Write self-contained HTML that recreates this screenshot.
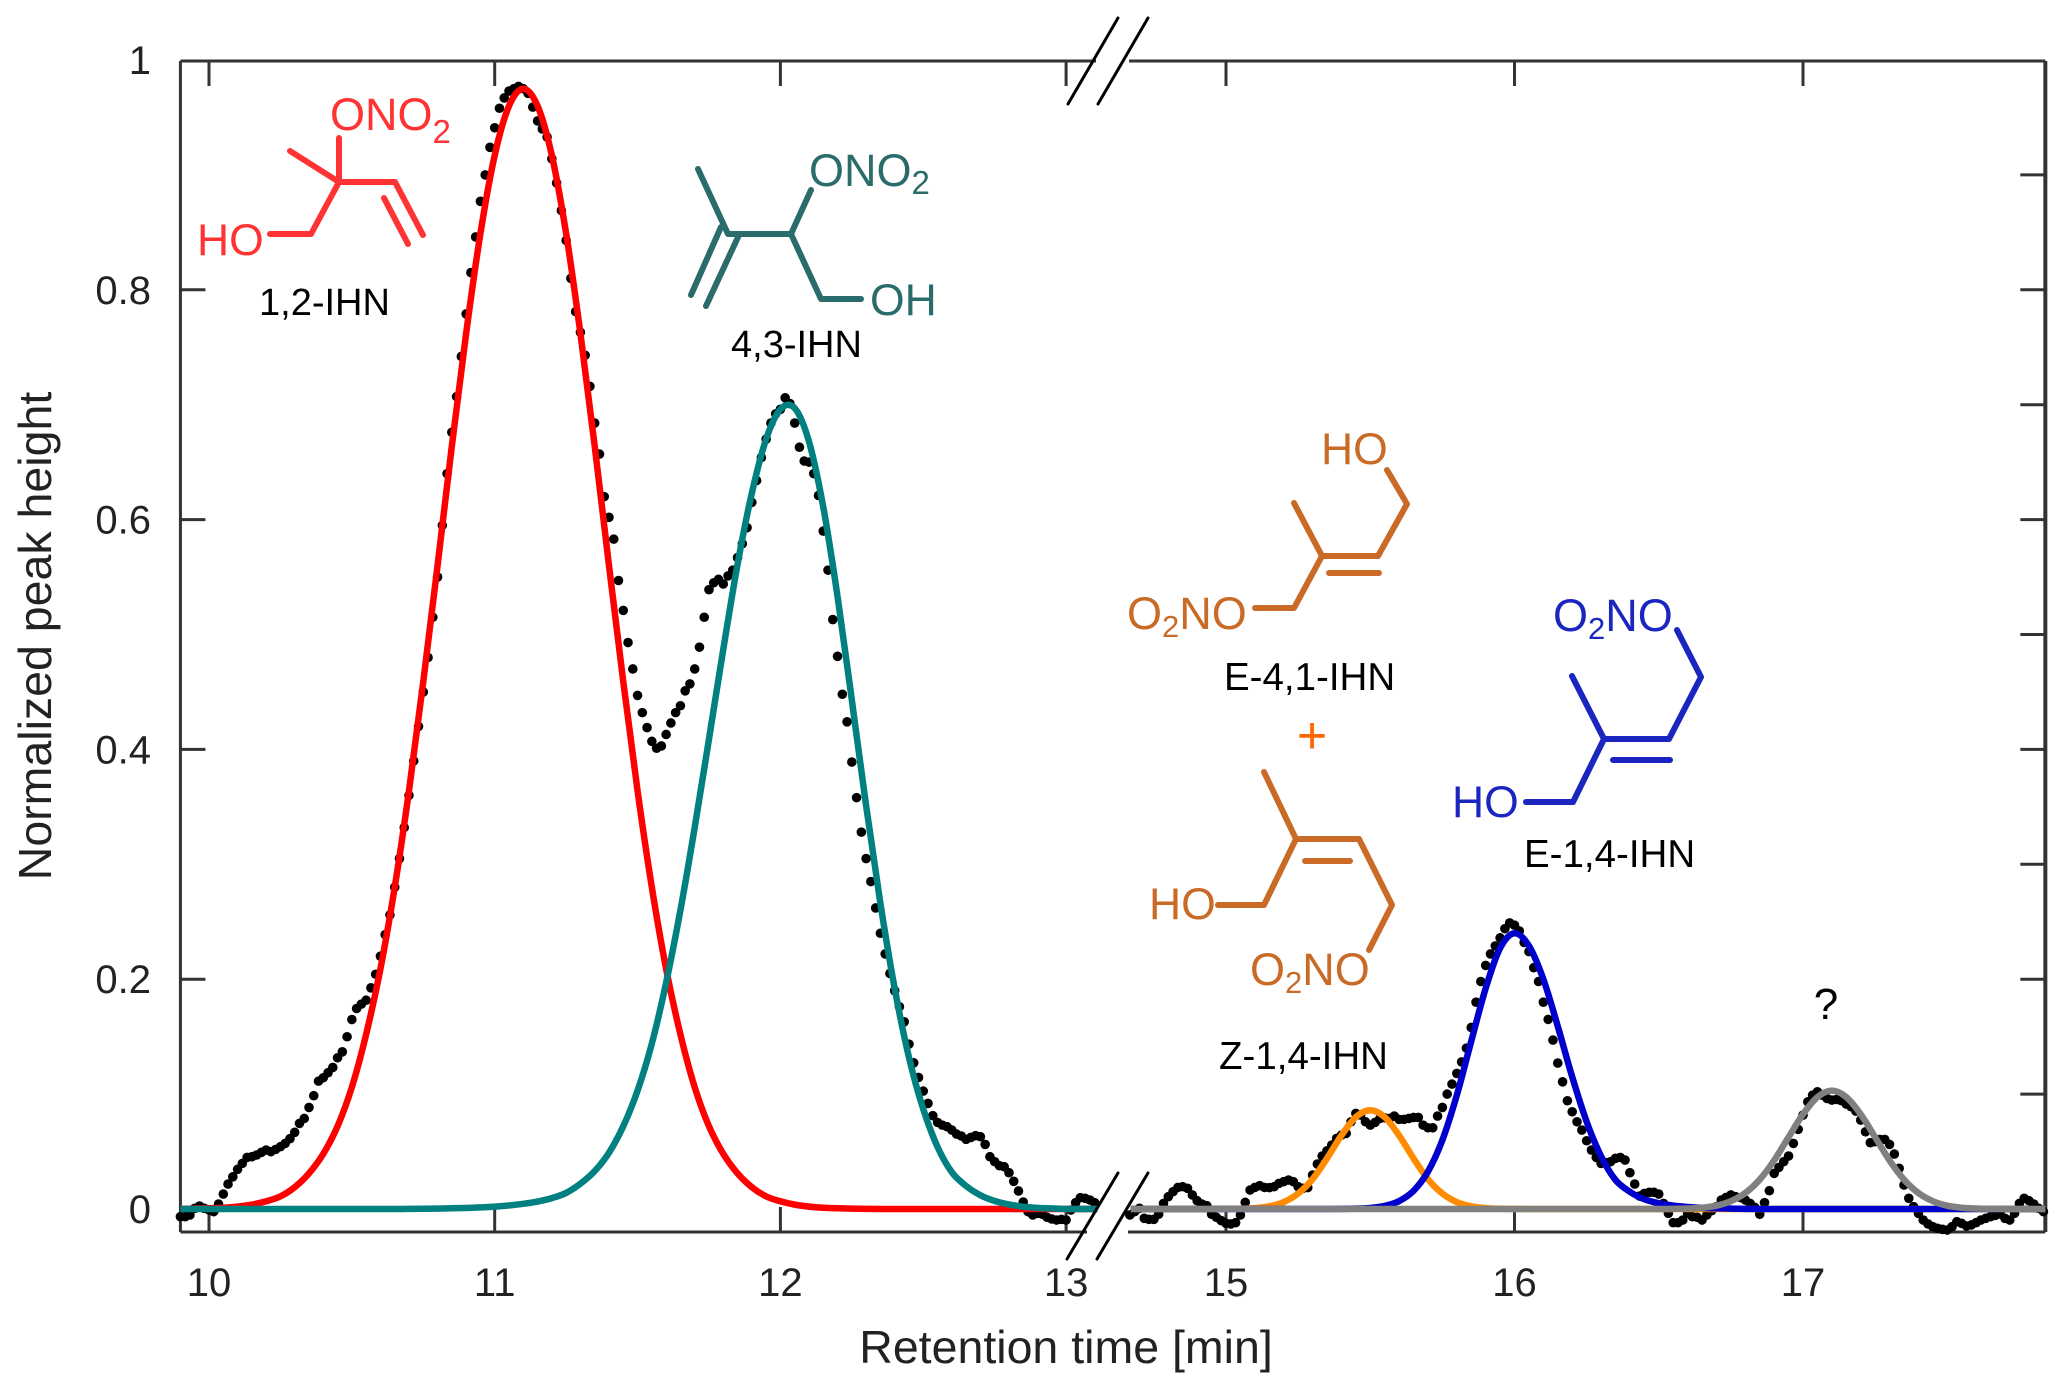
<!DOCTYPE html>
<html lang="en">
<head>
<meta charset="utf-8">
<title>Normalized peak height vs retention time</title>
<style>
html,body{margin:0;padding:0;background:#fff;width:2067px;height:1392px;overflow:hidden}
svg{display:block;font-family:"Liberation Sans",Arial,sans-serif}
</style>
</head>
<body>
<svg id="chart" xmlns="http://www.w3.org/2000/svg" width="2067" height="1392" viewBox="0 0 2067 1392">
  <g id="axes"></g>
  <g id="dots"></g>
  <g id="curves"></g>
  <g id="breaks" stroke="#000" stroke-width="3" stroke-linecap="round">
    <line x1="1068" y1="104" x2="1118" y2="18"/>
    <line x1="1098" y1="104" x2="1148" y2="18"/>
    <line x1="1067" y1="1259" x2="1118" y2="1173"/>
    <line x1="1097" y1="1259" x2="1148" y2="1173"/>
  </g>
  <text x="1066" y="1363" font-size="46.5" text-anchor="middle" fill="#222">Retention time [min]</text>
  <text transform="translate(51 636) rotate(-90)" font-size="46.5" text-anchor="middle" fill="#222">Normalized peak height</text>

  <g>
    <path fill="none" stroke="#ff3333" stroke-width="6" stroke-linecap="round" stroke-linejoin="round" d="M339 138L339 182M290 151L339 182L395 182L423 235M384 198L408 244M339 182L311 234L270 234"/>
    <text x="330" y="130" font-size="45" fill="#ff3333">ONO<tspan dy="13" font-size="33">2</tspan></text>
    <text x="197" y="255" font-size="44.5" fill="#ff3333">HO</text>
    <text x="259" y="315" font-size="38" fill="#000">1,2-IHN</text>
  </g>

  <g>
    <path fill="none" stroke="#2a6b6b" stroke-width="6" stroke-linecap="round" stroke-linejoin="round" d="M698 169L728 234L791 234L811 190M791 234L821 299L861 299M721 227L691 295M739 235L706 306"/>
    <text x="809" y="186" font-size="45" fill="#2a6b6b">ONO<tspan dy="8" font-size="33">2</tspan></text>
    <text x="870" y="315" font-size="44.5" fill="#2a6b6b">OH</text>
    <text x="731" y="357" font-size="38" fill="#000">4,3-IHN</text>
  </g>

  <g>
    <path fill="none" stroke="#c96a26" stroke-width="6" stroke-linecap="round" stroke-linejoin="round" d="M1387 470L1407 504L1378 556L1322 556L1294 503M1322 556L1294 608L1255 608M1329 573L1379 573"/>
    <text x="1321" y="464" font-size="44.5" fill="#c96a26">HO</text>
    <text x="1127" y="629" font-size="45" fill="#c96a26">O<tspan dy="8" font-size="31">2</tspan><tspan dy="-8">NO</tspan></text>
    <text x="1224" y="690" font-size="38.5" fill="#000">E-4,1-IHN</text>
  </g>

  <text x="1312" y="753" font-size="52" text-anchor="middle" fill="#ff6600">+</text>

  <g>
    <path fill="none" stroke="#c96a26" stroke-width="6" stroke-linecap="round" stroke-linejoin="round" d="M1264 772L1296 839L1359 839L1392 905L1369 950M1296 839L1264 905L1218 905M1305 861L1350 861"/>
    <text x="1149" y="919" font-size="44.5" fill="#c96a26">HO</text>
    <text x="1250" y="985" font-size="45" fill="#c96a26">O<tspan dy="8" font-size="31">2</tspan><tspan dy="-8">NO</tspan></text>
    <text x="1219" y="1069" font-size="38.5" fill="#000">Z-1,4-IHN</text>
  </g>

  <g>
    <path fill="none" stroke="#1a26bf" stroke-width="6" stroke-linecap="round" stroke-linejoin="round" d="M1677 630L1701 677L1669 739L1604 739L1572 676M1604 739L1573 802L1526 802M1613 760L1670 760"/>
    <text x="1553" y="631" font-size="45" fill="#1a26bf">O<tspan dy="8" font-size="31">2</tspan><tspan dy="-8">NO</tspan></text>
    <text x="1452" y="817" font-size="44.5" fill="#1a26bf">HO</text>
    <text x="1524" y="867" font-size="38.5" fill="#000">E-1,4-IHN</text>
  </g>

  <text x="1826" y="1019" font-size="44" text-anchor="middle" fill="#000">?</text>
</svg>

<script>
// ---- data ----
const xTickValues = [10, 11, 12, 13, 15, 16, 17];
const yTickValues = [0, 0.2, 0.4, 0.6, 0.8, 1];
const yTickLabels = ['0', '0.2', '0.4', '0.6', '0.8', '1'];
const rightTickValues = [0.1, 0.2, 0.3, 0.4, 0.5, 0.6, 0.7, 0.8, 0.9];
const leftTickValues = [0.2, 0.4, 0.6, 0.8];

const signalStepMin = 1 / 60;
const signalLeftStart = 9.9;
const signalRightStart = 14 + 40 / 60;

const signalLeft = [
-.0067,-.0067,-.0052,.0006,.0026,.0006,-.0009,-.0023,.0043,.013,.0217,.028,.0345,.0397,.0449,.0455,.047,.0493,.0513,.0499,
.0519,.0542,.0571,.0612,.0667,.0745,.0788,.0884,.0986,.1113,.1142,.1186,.1232,.1316,.1368,.1499,.1649,.1745,.1783,.1817,
.1925,.2043,.22,.2388,.256,.28,.305,.332,.36,.39,.42,.45,.48,.515,.55,.595,
.64,.676,.707,.742,.779,.815,.846,.877,.9,.924,.941,.958,.967,.973,.975,.977,.975,.971,.959,.947,.94,.933,.914,.893,.869,.843,.81,.781,.763,.743,.716,.684,.657,.62,
.602,.583,.547,.521,.493,.47,.447,.432,.419,.407,.401,.403,.413,.423,.432,.438,.451,.457,.47,.489,.515,.539,.545,.548,.544,.551,.556,.567,.579,.593,.615,
.634,.654,.67,.684,.692,.696,.706,.701,.684,.663,.651,.65,.64,.621,
.59,.556,.513,.481,.448,.424,.389,.358,.328,
.305,.285,.262,.24,.222,.205,.19,.176,
.1629,.1435,.1272,.1145,.1026,.0919,.0812,.0754,.073,.0716,.0687,.0652,.0635,.0606,.0623,.0638,.0629,.0562,.0455,.0412,.0377,.0368,.0316,.0241,.0157,.0061,-.0023,-.0052,-.0038,-.0046,-.0072,-.0087,-.0096,-.009,-.0096,-.0009,.0055,.0099,.0093,.0078,.0055
];

const signalRight = [
-.0052,-.0023,.0006,-.0081,-.009,-.009,-.0046,.0049,.0107,.0151,.0188,.0194,.018,.0122,.0072,.0043,.0029,-.0046,-.0072,-.0101,
-.0125,-.013,-.0119,-.0052,.0058,.0165,.0188,.0203,.0188,.0186,.0194,.0223,.0238,.0252,.0238,.0194,.018,.0186,.0296,.0391,
.0461,.0507,.0557,.0614,.0643,.0658,.0759,.0832,.0817,.0759,.073,.0754,.0788,.0794,.0788,.0809,.078,.078,.0788,.0797,
.0797,.073,.0707,.0707,.0809,.0884,.1,.1087,.118,.128,.14,.158,.18,.198,.212,.222,.229,.236,.244,.249,
.247,.242,.232,.224,.21,.198,.18,.165,.147,.127,.1107,
.0942,.0846,.0759,.0687,.0594,.0513,.0449,.0397,.0403,.0412,.0441,.0449,.0426,.0316,.0217,.0113,.0136,.0145,.0145,.013,
.0049,-.0038,-.0119,-.0119,-.0096,-.0038,-.0067,-.0072,-.0096,-.0052,-.0015,.002,.0078,.0101,.0122,.0107,.0099,.0078,.0049,.0014,
-.0046,.0055,.0159,.031,.0362,.0412,.0461,.0571,.0693,.0817,.0933,.0991,.102,.099,.0962,.0948,.0954,.0942,.0913,.089,
.0852,.0774,.0672,.0577,.0586,.0606,.0606,.0562,.0478,.0354,.0209,.0093,.002,-.0038,-.0096,-.013,-.0154,-.0168,-.0177,-.0183,
-.0154,-.011,-.0125,-.0148,-.0139,-.0119,-.0096,-.0081,-.0067,-.0055,-.0043,-.0081,-.0096,-.0038,.0049,.0093,.0072,.0043,.0006,-.0023
];

const fitTimesLeft = [9.9,9.95,10,10.05,10.1,10.15,10.2,10.25,10.3,10.35,10.4,10.45,10.5,10.55,10.6,10.65,10.7,10.75,10.8,10.85,10.9,10.95,11,11.05,11.1,11.15,11.2,11.25,11.3,11.35,11.4,11.45,11.5,11.55,11.6,11.65,11.7,11.75,11.8,11.85,11.9,11.95,12,12.05,12.1,12.15,12.2,12.25,12.3,12.35,12.4,12.45,12.5,12.55,12.6,12.65,12.7,12.75,12.8,12.85,12.9,12.95,13,13.05,13.11];

const fitRed = [.0001,.0003,.0006,.0011,.0021,.0038,.0067,.011,.019,.031,.048,.072,.106,.152,.209,.28,.364,.459,.56,.664,.762,.849,.917,.96,.975,.96,.917,.849,.762,.664,.56,.459,.364,.28,.209,.152,.106,.072,.048,.031,.019,.011,.0067,.0038,.0021,.0011,.0006,.0003,.0001,0,0,0,0,0,0,0,0,0,0,0,0,0,0,0,0];

const fitTeal = [0,0,0,0,0,0,0,0,0,0,0,0,0,0,0,0,.0001,.0002,.0003,.0006,.0009,.0014,.0021,.0031,.0045,.0065,.0095,.014,.022,.033,.049,.072,.103,.144,.197,.26,.332,.409,.487,.561,.623,.67,.696,.697,.668,.611,.533,.443,.351,.266,.192,.132,.087,.054,.032,.02,.012,.007,.004,.002,.001,.0005,0,0,0];

const fitTimesRight = [14.67,14.7,14.75,14.8,14.85,14.9,14.95,15,15.05,15.1,15.15,15.2,15.25,15.3,15.35,15.4,15.45,15.5,15.55,15.6,15.65,15.7,15.75,15.8,15.85,15.9,15.95,16,16.05,16.1,16.15,16.2,16.25,16.3,16.35,16.4,16.45,16.5,16.55,16.6,16.65,16.7,16.75,16.8,16.85,16.9,16.95,17,17.05,17.1,17.15,17.2,17.25,17.3,17.35,17.4,17.45,17.5,17.55,17.6,17.65,17.7,17.75,17.8,17.84];

const fitOrange = [0,0,0,0,0,0,0,.0001,.0002,.0008,.0023,.006,.0135,.026,.044,.064,.08,.086,.08,.064,.044,.026,.0135,.006,.0023,.0008,.0002,.0001,0,0,0,0,0,0,0,0,0,0,0,0,0,0,0,0,0,0,0,0,0,0,0,0,0,0,0,0,0,0,0,0,0,0,0,0,0];

const fitBlue = [0,0,0,0,0,0,0,0,0,0,0,0,0,0,0,.0001,.0003,.0009,.0027,.0069,.0158,.0325,.06,.099,.146,.192,.227,.24,.229,.2,.159,.115,.076,.046,.0253,.015,.0085,.005,.003,.0018,.001,.0006,.0003,.0001,0,0,0,0,0,0,0,0,0,0,0,0,0,0,0,0,0,0,0,0,0];

const fitGrey = [0,0,0,0,0,0,0,0,0,0,0,0,0,0,0,0,0,0,0,0,0,0,0,0,0,0,0,0,0,0,0,0,0,0,0,0,0,0,.0001,.0004,.0011,.0029,.0068,.0139,.0256,.0423,.0625,.0825,.0974,.103,.0974,.0825,.0625,.0423,.0256,.0139,.0068,.0029,.0011,.0004,.0001,0,0,0,0];

// ---- axis functions ----
function xScale(t) {
  return t < 14 ? 209 + 285.7 * (t - 10) : 1226 + 288.5 * (t - 15);
}
function yScale(v) {
  return 1209 - 1149 * v;
}

const NS = 'http://www.w3.org/2000/svg';
function mk(tag, parent, attrs) {
  const el = document.createElementNS(NS, tag);
  for (const k in attrs) el.setAttribute(k, attrs[k]);
  parent.appendChild(el);
  return el;
}

function smoothPath(xs, ys) {
  const p = xs.map((t, i) => [xScale(t), yScale(ys[i])]);
  let d = 'M' + p[0][0].toFixed(2) + ' ' + p[0][1].toFixed(2);
  for (let i = 0; i < p.length - 1; i++) {
    const a = p[Math.max(i - 1, 0)], b = p[i], c = p[i + 1], e = p[Math.min(i + 2, p.length - 1)];
    const c1x = b[0] + (c[0] - a[0]) / 6, c1y = b[1] + (c[1] - a[1]) / 6;
    const c2x = c[0] - (e[0] - b[0]) / 6, c2y = c[1] - (e[1] - b[1]) / 6;
    d += 'C' + c1x.toFixed(2) + ' ' + c1y.toFixed(2) + ' ' + c2x.toFixed(2) + ' ' + c2y.toFixed(2) + ' ' + c[0].toFixed(2) + ' ' + c[1].toFixed(2);
  }
  return d;
}

// ---- axes ----
const axes = document.getElementById('axes');
const frame = { left: xScale(9.9), right: xScale(17.84), top: yScale(1) + 1, bottom: 1232 };
const axisStyle = { stroke: '#333', 'stroke-width': 3, fill: 'none' };

const axisLeft = mk('line', axes, Object.assign({ x1: frame.left, y1: frame.top, x2: frame.left, y2: frame.bottom }, axisStyle));


const axisRight = mk('line', axes, Object.assign({ x1: frame.right, y1: frame.top, x2: frame.right, y2: frame.bottom }, axisStyle));


axisRight.setAttribute('stroke-width', '4');
const axisTopA = mk('line', axes, Object.assign({ x1: frame.left, y1: frame.top, x2: 1096, y2: frame.top }, axisStyle));


const axisTopB = mk('line', axes, Object.assign({ x1: 1129, y1: frame.top, x2: frame.right, y2: frame.top }, axisStyle));


const axisBottomA = mk('line', axes, Object.assign({ x1: frame.left, y1: frame.bottom, x2: 1087, y2: frame.bottom }, axisStyle));


const axisBottomB = mk('line', axes, Object.assign({ x1: 1128, y1: frame.bottom, x2: frame.right, y2: frame.bottom }, axisStyle));



const tickLen = 25;
xTickValues.forEach(function (t) {
  const x = xScale(t);
  const tb = mk('line', axes, { x1: x, y1: frame.bottom, x2: x, y2: frame.bottom - tickLen, stroke: '#333', 'stroke-width': 3 });
  
  
  const tt = mk('line', axes, { x1: x, y1: frame.top, x2: x, y2: frame.top + tickLen, stroke: '#333', 'stroke-width': 3 });
  
  
  const lb = mk('text', axes, { x: x, y: 1296, 'font-size': 40, 'text-anchor': 'middle', fill: '#222' });
  
  
  lb.textContent = String(t);
});
leftTickValues.forEach(function (v) {
  const y = yScale(v);
  const tk = mk('line', axes, { x1: frame.left, y1: y, x2: frame.left + tickLen, y2: y, stroke: '#333', 'stroke-width': 3 });
  
  
});
rightTickValues.forEach(function (v) {
  const y = yScale(v);
  const tk = mk('line', axes, { x1: frame.right - tickLen, y1: y, x2: frame.right, y2: y, stroke: '#333', 'stroke-width': 3 });
  
  
});
yTickValues.forEach(function (v, i) {
  const lb = mk('text', axes, { x: 151, y: yScale(v) + 14, 'font-size': 40, 'text-anchor': 'end', fill: '#222' });
  
  
  lb.textContent = yTickLabels[i];
});

// ---- measured dots ----
const dotsGroup = document.getElementById('dots');
function drawDots(values, start, label) {
  values.forEach(function (v, i) {
    const t = start + i * signalStepMin;
    const c = mk('circle', dotsGroup, { cx: xScale(t).toFixed(2), cy: yScale(v).toFixed(2), r: 4.8, fill: '#000' });
    
    
  });
}
drawDots(signalLeft, signalLeftStart, 'signal-point-left');
drawDots(signalRight, signalRightStart, 'signal-point-right');

// ---- fit curves ----
const curvesGroup = document.getElementById('curves');
const redPath = mk('path', curvesGroup, { d: smoothPath(fitTimesLeft, fitRed), fill: 'none', stroke: '#ff0000', 'stroke-width': 6.5 });


const tealPath = mk('path', curvesGroup, { d: smoothPath(fitTimesLeft, fitTeal), fill: 'none', stroke: '#008080', 'stroke-width': 6.5 });


const orangePath = mk('path', curvesGroup, { d: smoothPath(fitTimesRight, fitOrange), fill: 'none', stroke: '#ff8c00', 'stroke-width': 6.5 });


const bluePath = mk('path', curvesGroup, { d: smoothPath(fitTimesRight, fitBlue), fill: 'none', stroke: '#0000cd', 'stroke-width': 6.5 });


const greyPath = mk('path', curvesGroup, { d: smoothPath(fitTimesRight, fitGrey), fill: 'none', stroke: '#808080', 'stroke-width': 6.5 });


</script>
</body>
</html>
